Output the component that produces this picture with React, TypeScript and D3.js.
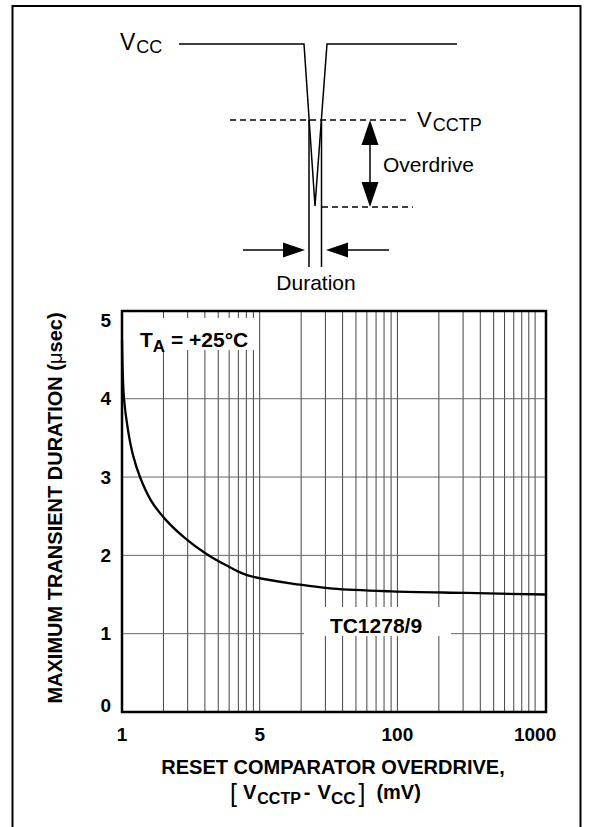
import React from "react";
import * as d3 from "d3";

// ---- data ----
const overdriveMv = [1.0, 1.012, 1.034, 1.105, 1.202, 1.351, 1.625, 2.088, 2.87, 4.08, 5.9, 8.2, 19.7, 34, 91, 318, 1200];
const durationUs = [4.75, 4.35, 4.0, 3.6, 3.28, 3.0, 2.7, 2.45, 2.22, 2.02, 1.86, 1.745, 1.625, 1.575, 1.54, 1.52, 1.5];
const xTickValues = [1, 10, 100, 1000];
const xTickLabels = ["1", "5", "100", "1000"];
const yTickValues = [0, 1, 2, 3, 4, 5];
const yGridValues = [1, 2, 3, 4];
const decades = [1, 10, 100];
const seriesLabel = "TC1278/9";
const tempLabel = "+25°C";

const FONT = "'Liberation Sans', Arial, Helvetica, sans-serif";

export default function App() {
  const left = 122, right = 546, top = 311, bottom = 712;
  const x = d3.scaleLog().domain([1, 1200]).range([left, right]);
  const y = d3.scaleLinear().domain([0, 5.12]).range([bottom, top]);

  const xGrid: number[] = [];
  decades.forEach((d) => {
    for (let k = 2; k <= 10; k++) xGrid.push(d * k);
  });

  const line = d3
    .line<number>()
    .x((_, i) => x(overdriveMv[i]))
    .y((d) => y(d))
    .curve(d3.curveCatmullRom.alpha(0.5));

  const sw = 1.5;

  return (
    <svg
      width={590}
      height={827}
      style={{ position: "absolute", left: 0, top: 0, background: "#fff" }}
      fontFamily={FONT}
    >
      <rect x={0} y={0} width={590} height={827} fill="#fff" />
      {/* outer frame */}
      <rect x={12.5} y={6} width={568} height={900} fill="none" stroke="#000" strokeWidth={2} />

      {/* ---- schematic ---- */}
      <g stroke="#000" strokeWidth={sw} fill="none">
        <polyline points="179,44 304,44 315,206 327,44 457,44" />
        <line x1={309} y1={120} x2={309} y2={267} />
        <line x1={321.5} y1={120} x2={321.5} y2={267} />
        <line x1={230} y1={120} x2={408} y2={120} strokeDasharray="6,4" />
        <line x1={322} y1={207} x2={413} y2={207} strokeDasharray="6,4" />
        <line x1={370} y1={130} x2={370} y2={197} />
        <line x1={243} y1={250} x2={285} y2={250} />
        <line x1={346} y1={250} x2={389} y2={250} />
      </g>
      <g fill="#000">
        <polygon points="370,120 361.5,145 378.5,145" />
        <polygon points="370,207 361.5,182 378.5,182" />
        <polygon points="305,250 283,242.5 283,257.5" />
        <polygon points="326,250 348,242.5 348,257.5" />
      </g>
      <text x={120} y={50} fontSize={23}>
        V<tspan fontSize={18} dy={3} dx={1}>CC</tspan>
      </text>
      <text x={417} y={127} fontSize={22}>
        V<tspan fontSize={18} dy={4} dx={1}>CCTP</tspan>
      </text>
      <text x={383} y={172} fontSize={21}>Overdrive</text>
      <text x={316} y={290} fontSize={21} textAnchor="middle">Duration</text>

      {/* ---- chart ---- */}
      <g stroke="#444" strokeWidth={1}>
        {xGrid.map((v) => (
          <line key={"gx" + v} x1={x(v)} x2={x(v)} y1={top} y2={bottom} />
        ))}
      </g>
      <g stroke="#666" strokeWidth={1}>
        {yGridValues.map((v) => (
          <line key={"gy" + v} x1={left} x2={right} y1={y(v)} y2={y(v)} />
        ))}
      </g>
      {/* label boxes */}
      <rect x={129} y={318} width={126} height={32} fill="#fff" />
      <rect x={304} y={607} width={147} height={29} fill="#fff" />
      <text x={140} y={347} fontSize={21} fontWeight="bold">
        T<tspan fontSize={17} dy={5}>A</tspan>
        <tspan dy={-5}>{" = " + tempLabel}</tspan>
      </text>
      <text x={376} y={633} fontSize={21} fontWeight="bold" textAnchor="middle">
        {seriesLabel}
      </text>

      <path d={line(durationUs) || ""} fill="none" stroke="#000" strokeWidth={2.3} strokeLinejoin="round" />
      <rect x={left} y={top} width={right - left} height={bottom - top} fill="none" stroke="#000" strokeWidth={2.5} />

      {/* y ticks */}
      {yTickValues.map((v) => (
        <text
          key={"yt" + v}
          x={111}
          y={Math.max(top + 5, Math.min(bottom - 7, y(v)))}
          fontSize={19}
          fontWeight="bold"
          textAnchor="end"
          dominantBaseline="central"
        >
          {v}
        </text>
      ))}
      {/* x ticks */}
      {xTickValues.map((v, i) => (
        <text key={"xt" + v} x={x(v)} y={741} fontSize={19} fontWeight="bold" textAnchor="middle">
          {xTickLabels[i]}
        </text>
      ))}

      {/* axis titles */}
      <text x={333} y={774} fontSize={20} fontWeight="bold" textAnchor="middle">
        RESET COMPARATOR OVERDRIVE,
      </text>
      <text x={230} y={799} fontSize={20} fontWeight="bold">
        <tspan fontSize={25} fontWeight="normal" dy={3}>[</tspan>
        <tspan dx={6} dy={-3}>V</tspan>
        <tspan fontSize={16} dy={5} dx={1}>CCTP</tspan>
        <tspan dy={-5} dx={3}>-</tspan>
        <tspan dx={7}>V</tspan>
        <tspan fontSize={17} dy={5}>CC</tspan>
        <tspan fontSize={25} fontWeight="normal" dy={-2} dx={3}>]</tspan>
        <tspan dx={11} dy={-3}>(mV)</tspan>
      </text>
      <text transform="translate(62,508) rotate(-90)" fontSize={20} fontWeight="bold" textAnchor="middle">
        MAXIMUM TRANSIENT DURATION (<tspan fontWeight="normal">μ</tspan>sec)
      </text>
    </svg>
  );
}
